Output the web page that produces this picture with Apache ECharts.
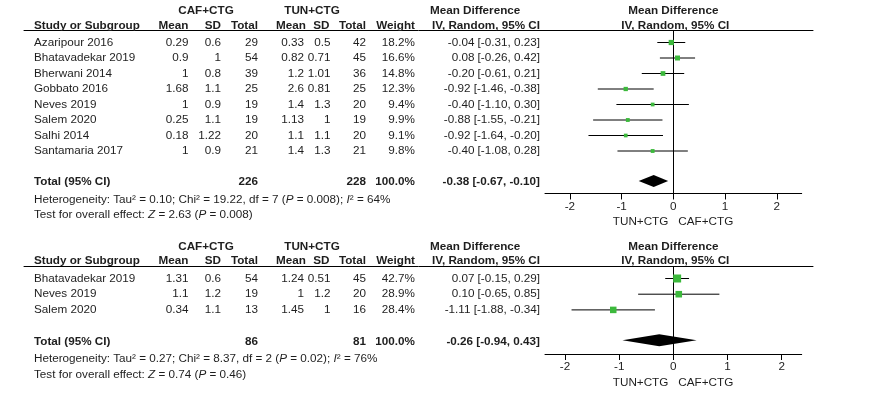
<!DOCTYPE html>
<html><head><meta charset="utf-8">
<script src="https://cdn.jsdelivr.net/npm/echarts@6/dist/echarts.min.js"></script>
<style>html,body{margin:0;padding:0;background:#fff}#c{width:883px;height:394px}</style>
</head><body><div id="c"></div>
<script>
// ---------- Panel 1 data ----------
const studies1 = ['Azaripour 2016','Bhatavadekar 2019','Bherwani 2014','Gobbato 2016','Neves 2019','Salem 2020','Salhi 2014','Santamaria 2017'];
const cafMean1 = [0.29, 0.9, 1, 1.68, 1, 0.25, 0.18, 1];
const cafSD1   = [0.6, 1, 0.8, 1.1, 0.9, 1.1, 1.22, 0.9];
const cafN1    = [29, 54, 39, 25, 19, 19, 20, 21];
const tunMean1 = [0.33, 0.82, 1.2, 2.6, 1.4, 1.13, 1.1, 1.4];
const tunSD1   = [0.5, 0.71, 1.01, 0.81, 1.3, 1, 1.1, 1.3];
const tunN1    = [42, 45, 36, 25, 20, 19, 20, 21];
const weight1  = [18.2, 16.6, 14.8, 12.3, 9.4, 9.9, 9.1, 9.8];
const md1      = [-0.04, 0.08, -0.20, -0.92, -0.40, -0.88, -0.92, -0.40];
const lo1      = [-0.31, -0.26, -0.61, -1.46, -1.10, -1.55, -1.64, -1.08];
const hi1      = [0.23, 0.42, 0.21, -0.38, 0.30, -0.21, -0.20, 0.28];
const totalN1  = [226, 228];
const totalMD1 = [-0.38, -0.67, -0.10];
const het1     = ['0.10', '19.22', '7', '0.008', '64'];
const effect1  = ['2.63', '0.008'];

// ---------- Panel 2 data ----------
const studies2 = ['Bhatavadekar 2019','Neves 2019','Salem 2020'];
const cafMean2 = [1.31, 1.1, 0.34];
const cafSD2   = [0.6, 1.2, 1.1];
const cafN2    = [54, 19, 13];
const tunMean2 = [1.24, 1, 1.45];
const tunSD2   = [0.51, 1.2, 1];
const tunN2    = [45, 20, 16];
const weight2  = [42.7, 28.9, 28.4];
const md2      = [0.07, 0.10, -1.11];
const lo2      = [-0.15, -0.65, -1.88];
const hi2      = [0.29, 0.85, -0.34];
const totalN2  = [86, 81];
const totalMD2 = [-0.26, -0.94, 0.43];
const het2     = ['0.27', '8.37', '2', '0.02', '76'];
const effect2  = ['0.74', '0.46'];

const tickValues = [-2, -1, 0, 1, 2];
const groupLabels = ['CAF+CTG', 'TUN+CTG'];

// ---------- layout ----------
const FONT = '"Liberation Sans", Arial, Helvetica, sans-serif';
const FS = 11.7;
const TXT = '#1e1e1e';
const GREEN = '#3cb93c';
const panels = [
  {row0: 42.5, rowH: 15.5, yMin: -0.77, yMax: 9.74, xMin: -2.48, xMax: 2.48,
   studies: studies1, cafMean: cafMean1, cafSD: cafSD1, cafN: cafN1, tunMean: tunMean1, tunSD: tunSD1, tunN: tunN1,
   weight: weight1, md: md1, lo: lo1, hi: hi1, totalN: totalN1, totalMD: totalMD1, het: het1, effect: effect1},
  {row0: 278.5, rowH: 15.7, yMin: -0.75, yMax: 4.81, xMin: -2.37, xMax: 2.37,
   studies: studies2, cafMean: cafMean2, cafSD: cafSD2, cafN: cafN2, tunMean: tunMean2, tunSD: tunSD2, tunN: tunN2,
   weight: weight2, md: md2, lo: lo2, hi: hi2, totalN: totalN2, totalMD: totalMD2, het: het2, effect: effect2}
];
const COL = {study: 34, cafMean: 188.5, cafSD: 221, cafN: 258, tunMean: 304, tunSD: 330.5, tunN: 366, weight: 415, ci: 540, mdHead: 430, cafHead: 206, tunHead: 312};
const SQK = 1.224; // square side per sqrt(weight)

const f2 = v => v.toFixed(2);
const ciStr = (m, l, h) => `${f2(m)} [${f2(l)}, ${f2(h)}]`;

const grids = [], xAxes = [], yAxes = [], series = [];

function textRender(items) {
  return function (params, api) {
    const it = items[api.value(2)];
    const p = api.coord([api.value(0), api.value(1)]);
    return {
      type: 'text', x: p[0] + (it.dx || 0), y: p[1],
      style: {
        text: it.text, textAlign: it.align, textVerticalAlign: 'middle',
        fontSize: FS, fontFamily: FONT, fontWeight: it.bold ? 'bold' : 'normal', fill: TXT,
        rich: {i: {fontSize: FS, fontFamily: FONT, fontStyle: 'italic', fill: TXT}}
      }
    };
  };
}

panels.forEach((P, k) => {
  const top = P.row0 + P.yMin * P.rowH;
  const height = (P.yMax - P.yMin) * P.rowH;
  const n = P.studies.length;
  const totRow = n + 1, hetRow = n + 2.12, effRow = n + 3.12;
  const gT = grids.length, gF = gT + 1;

  // table grid (x in layout px units)
  grids.push({left: 24, width: 789, top: top, height: height});
  xAxes.push({gridIndex: gT, type: 'value', min: 24, max: 813, position: 'top',
    axisLine: {show: true, onZero: false, lineStyle: {color: '#000', width: 1}},
    axisTick: {show: false}, axisLabel: {show: false}, splitLine: {show: false}});
  yAxes.push({gridIndex: gT, type: 'value', min: P.yMin, max: P.yMax, inverse: true, show: false});

  // forest grid
  grids.push({left: 545, width: 256.7, top: top, height: height});
  xAxes.push({gridIndex: gF, type: 'value', min: P.xMin, max: P.xMax, position: 'bottom',
    axisLine: {show: true, onZero: false, lineStyle: {color: '#000', width: 1}},
    axisTick: {show: true, length: 6, customValues: tickValues, lineStyle: {color: '#000'}},
    axisLabel: {show: true, customValues: tickValues, color: TXT, fontSize: FS, fontFamily: FONT, margin: 7},
    splitLine: {show: false}});
  yAxes.push({gridIndex: gF, type: 'value', min: P.yMin, max: P.yMax, inverse: true,
    axisLine: {show: true, onZero: true, lineStyle: {color: '#000', width: 1}},
    axisTick: {show: false}, axisLabel: {show: false}, splitLine: {show: false}});

  // table text items
  const items = [];
  const add = (x, row, text, align, bold) => items.push({x, row, text, align, bold});
  const hr1 = -2.05, hr2 = -1.1;
  add(COL.cafHead, hr1, groupLabels[0], 'center', true);
  add(COL.tunHead, hr1, groupLabels[1], 'center', true);
  add(COL.mdHead, hr1, 'Mean Difference', 'left', true);
  add(COL.study, hr2, 'Study or Subgroup', 'left', true);
  add(COL.cafMean, hr2, 'Mean', 'right', true);
  add(COL.cafSD, hr2, 'SD', 'right', true);
  add(COL.cafN, hr2, 'Total', 'right', true);
  add(COL.tunMean + 2, hr2, 'Mean', 'right', true);
  add(COL.tunSD - 1, hr2, 'SD', 'right', true);
  add(COL.tunN, hr2, 'Total', 'right', true);
  add(COL.weight, hr2, 'Weight', 'right', true);
  add(COL.ci, hr2, 'IV, Random, 95% CI', 'right', true);
  P.studies.forEach((s, i) => {
    add(COL.study, i, s, 'left', false);
    add(COL.cafMean, i, String(P.cafMean[i]), 'right', false);
    add(COL.cafSD, i, String(P.cafSD[i]), 'right', false);
    add(COL.cafN, i, String(P.cafN[i]), 'right', false);
    add(COL.tunMean, i, String(P.tunMean[i]), 'right', false);
    add(COL.tunSD, i, String(P.tunSD[i]), 'right', false);
    add(COL.tunN, i, String(P.tunN[i]), 'right', false);
    add(COL.weight, i, P.weight[i].toFixed(1) + '%', 'right', false);
    add(COL.ci, i, ciStr(P.md[i], P.lo[i], P.hi[i]), 'right', false);
  });
  add(COL.study, totRow, 'Total (95% CI)', 'left', true);
  add(COL.cafN, totRow, String(P.totalN[0]), 'right', true);
  add(COL.tunN, totRow, String(P.totalN[1]), 'right', true);
  add(COL.weight, totRow, '100.0%', 'right', true);
  add(COL.ci, totRow, ciStr(P.totalMD[0], P.totalMD[1], P.totalMD[2]), 'right', true);
  add(COL.study, hetRow, `Heterogeneity: Tau² = ${P.het[0]}; Chi² = ${P.het[1]}, df = ${P.het[2]} ({i|P} = ${P.het[3]}); {i|I}² = ${P.het[4]}%`, 'left', false);
  add(COL.study, effRow, `Test for overall effect: {i|Z} = ${P.effect[0]} ({i|P} = ${P.effect[1]})`, 'left', false);

  series.push({type: 'custom', xAxisIndex: gT, yAxisIndex: gT, clip: false, silent: true,
    renderItem: textRender(items), data: items.map((it, j) => [it.x, it.row, j])});

  // forest plot header + favours labels
  const fItems = [];
  fItems.push({x: 0, row: hr1, text: 'Mean Difference', align: 'center', bold: true});
  fItems.push({x: 0, row: hr2, text: 'IV, Random, 95% CI', align: 'center', bold: true, dx: 2});
  const favRow = P.yMax + 28.5 / P.rowH;
  fItems.push({x: 0, row: favRow, text: groupLabels[1], align: 'right', bold: false, dx: -5});
  fItems.push({x: 0, row: favRow, text: groupLabels[0], align: 'left', bold: false, dx: 5});
  series.push({type: 'custom', xAxisIndex: gF, yAxisIndex: gF, clip: false, silent: true,
    renderItem: textRender(fItems), data: fItems.map((it, j) => [it.x, it.row, j])});

  // study CIs and squares
  series.push({type: 'custom', xAxisIndex: gF, yAxisIndex: gF, clip: false, silent: true,
    renderItem: function (params, api) {
      const y = api.value(1);
      const a = api.coord([api.value(2), y]);
      const b = api.coord([api.value(3), y]);
      const m = api.coord([api.value(0), y]);
      const s = SQK * Math.sqrt(api.value(4));
      return {type: 'group', children: [
        {type: 'line', shape: {x1: a[0], y1: a[1], x2: b[0], y2: b[1]}, style: {stroke: '#000', lineWidth: 1}},
        {type: 'rect', shape: {x: m[0] - s / 2, y: m[1] - s / 2, width: s, height: s}, style: {fill: GREEN}}
      ]};
    },
    data: P.md.map((v, i) => [v, i, P.lo[i], P.hi[i], P.weight[i]])});

  // pooled diamond
  series.push({type: 'custom', xAxisIndex: gF, yAxisIndex: gF, clip: false, silent: true,
    renderItem: function (params, api) {
      const y = api.value(1);
      const m = api.coord([api.value(0), y]);
      const a = api.coord([api.value(2), y]);
      const b = api.coord([api.value(3), y]);
      const h = 6;
      return {type: 'polygon', shape: {points: [[a[0], m[1] - 1], [m[0], m[1] - 1 - h], [b[0], m[1] - 1], [m[0], m[1] - 1 + h]]},
        style: {fill: '#000'}};
    },
    data: [[P.totalMD[0], totRow, P.totalMD[1], P.totalMD[2]]]});
});

const chart = echarts.init(document.getElementById('c'), null, {renderer: 'canvas'});
chart.setOption({animation: false, backgroundColor: '#fff', grid: grids, xAxis: xAxes, yAxis: yAxes, series: series});
</script></body></html>
